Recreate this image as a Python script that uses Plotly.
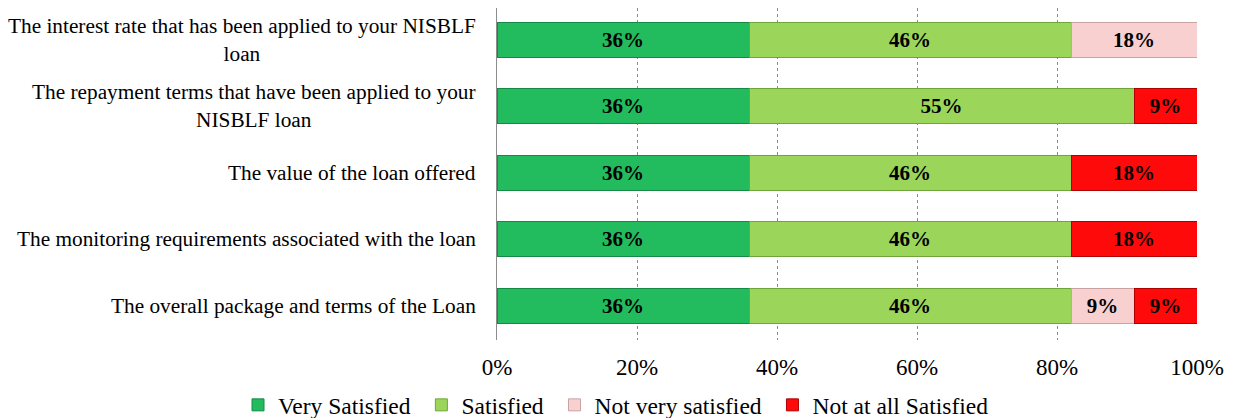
import plotly.graph_objects as go

categories = [
    "The interest rate that has been applied to your NISBLF<br>loan",
    "The repayment terms that have been applied to your<br>NISBLF loan",
    "The value of the loan offered",
    "The monitoring requirements associated with the loan",
    "The overall package and terms of the Loan",
]
series_names = ["Very Satisfied", "Satisfied", "Not very satisfied", "Not at all Satisfied"]
very_satisfied = [36, 36, 36, 36, 36]
satisfied = [46, 55, 46, 46, 46]
not_very_satisfied = [18, None, None, None, 9]
not_at_all_satisfied = [None, 9, 18, 18, 9]
x_ticks = [0, 20, 40, 60, 80, 100]
x_tick_labels = ["0%", "20%", "40%", "60%", "80%", "100%"]

values = [very_satisfied, satisfied, not_very_satisfied, not_at_all_satisfied]
fills = ["#22BB5E", "#9BD55A", "#F9D0D0", "#FF0A0A"]
edges = ["#168A44", "#6FA63A", "#C9A3A3", "#B00000"]

FONT = "Liberation Serif"
ids = list(range(len(categories)))

fig = go.Figure()
for name, vals, col, edge in zip(series_names, values, fills, edges):
    fig.add_trace(go.Bar(
        y=ids, x=vals, name=name + "\u00a0", orientation="h",
        marker=dict(color=col, line=dict(color=edge, width=1)),
        texttemplate="<b>%{x}%</b>", textposition="inside",
        insidetextanchor="middle",
        textfont=dict(family=FONT, size=21, color="black"),
        hoverinfo="skip",
    ))

for i, cat in enumerate(categories):
    fig.add_annotation(
        x=0, xref="paper", y=i, yref="y", text=cat, showarrow=False,
        xanchor="right", yanchor="middle", align="center", xshift=-19,
        font=dict(family=FONT, size=21.3, color="black"),
    )

fig.update_layout(
    barmode="stack", bargap=0.475,
    width=1228, height=410,
    margin=dict(l=489, r=39, t=0, b=78, autoexpand=False),
    paper_bgcolor="white", plot_bgcolor="white",
    font=dict(family=FONT, size=21, color="black"),
    showlegend=True,
    legend=dict(orientation="h", xref="paper", x=-0.37, xanchor="left",
                yref="paper", y=-0.196, yanchor="middle",
                bgcolor="rgba(0,0,0,0)",
                font=dict(family=FONT, size=23.5, color="black"),
                itemwidth=30, traceorder="normal"),
    xaxis=dict(range=[0, 100], tickvals=x_ticks, ticktext=x_tick_labels,
               showgrid=True, gridcolor="#8C8C8C", griddash="dot", gridwidth=1,
               zeroline=False, showline=False, ticks="", ticklabelstandoff=11,
               tickfont=dict(family=FONT, size=23, color="black")),
    yaxis=dict(tickvals=ids, showticklabels=False, range=[4.51, -0.473],
               showline=True, linecolor="#8C8C8C", linewidth=1,
               showgrid=False, zeroline=False, ticks=""),
)

fig.write_html("out.html")
